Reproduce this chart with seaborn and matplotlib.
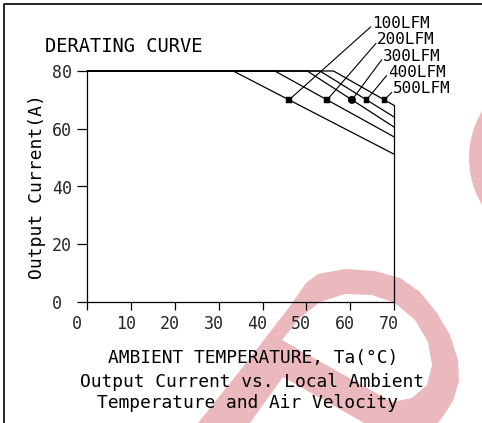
import numpy as np
import pandas as pd
import matplotlib
matplotlib.use("Agg")
import matplotlib.pyplot as plt
import matplotlib.transforms as mtransforms
from matplotlib.path import Path
from matplotlib.patches import PathPatch, Circle
from matplotlib.lines import Line2D
import seaborn as sns

# ---- derating data -------------------------------------------------------
airflow = ["100LFM", "200LFM", "300LFM", "400LFM", "500LFM"]
derate_start_temp = [33.3, 42.8, 50.2, 53.1, 56.2]   # °C where each curve leaves full load
current_at_70c = [51.2, 57.2, 60.6, 64.1, 68.1]       # A at 70 °C
rated_current = 80
temp_range = [0, 70]
marker_current = 70
marker_kind = ["square", "square", "round", "square", "square"]

x_ticks = [0, 10, 20, 30, 40, 50, 60, 70]
y_ticks = [0, 20, 40, 60, 80]

# callout text anchors (data units, outside the plot box)
label_temp = [65.0, 66.2, 67.5, 68.6, 69.8]
label_current = [96.5, 90.8, 85.1, 79.6, 73.8]

# ---- tables --------------------------------------------------------------
rows = []
for name, t0, i70 in zip(airflow, derate_start_temp, current_at_70c):
    rows += [(name, temp_range[0], rated_current),
             (name, t0, rated_current),
             (name, temp_range[1], i70)]
curves = pd.DataFrame(rows, columns=["airflow", "temp", "current"])

marker_temp = [np.interp(marker_current, [i70, rated_current], [temp_range[1], t0])
               for t0, i70 in zip(derate_start_temp, current_at_70c)]
marks = pd.DataFrame({"airflow": airflow, "temp": marker_temp,
                      "current": [marker_current] * len(airflow), "kind": marker_kind})

# ---- figure --------------------------------------------------------------
sns.set_theme(style="white")
mono = ["DejaVu Sans Mono", "DejaVu Sans"]
plt.rcParams["font.family"] = mono
plt.rcParams["text.color"] = "black"

W, H = 482, 423
fig = plt.figure(figsize=(W / 100, H / 100), dpi=100, facecolor="white")

# background stamp
wm = fig.add_axes([0, 0, 1, 1], zorder=0)
wm.set_xlim(0, W)
wm.set_ylim(H, 0)
wm.axis("off")
pink = "#ebb9bd"
outer = [(150, 500), (179, 450), (198, 423), (250, 358), (290, 306), (306, 283),
         (318, 274), (345, 269), (375, 271), (400, 278), (420, 292), (437, 313),
         (450, 335), (458, 360), (459, 381), (453, 401), (442, 418), (428, 434),
         (410, 449), (283, 377), (250, 423), (226, 450), (210, 500)]
hole = [(282, 340), (300, 318), (320, 302), (345, 294), (372, 295), (395, 303),
        (415, 320), (428, 342), (432, 365), (427, 385), (412, 398), (392, 402)]
verts = outer + [outer[0]] + hole[::-1] + [hole[-1]]
codes = ([Path.MOVETO] + [Path.LINETO] * (len(outer) - 1) + [Path.CLOSEPOLY]
         + [Path.MOVETO] + [Path.LINETO] * (len(hole) - 1) + [Path.CLOSEPOLY])
wm.add_patch(PathPatch(Path(verts, codes), facecolor=pink, edgecolor="none"))
wm.add_patch(Circle((560, 158), 91, facecolor=pink, edgecolor="none"))

# main plot
ax = fig.add_axes([87.3 / W, 1 - 302 / H, 306.7 / W, 231 / H], zorder=1)
ax.set_facecolor("none")

sns.lineplot(data=curves, x="temp", y="current", hue="airflow",
             palette=["black"] * len(airflow), linewidth=0.9, legend=False,
             sort=False, estimator=None, ax=ax)
for ln in ax.get_lines():
    ln.set_clip_on(False)
# right-hand boundary of the operating area
ax.plot([temp_range[1], temp_range[1]], [0, max(current_at_70c)], color="black",
        lw=0.9, clip_on=False)

sns.scatterplot(data=marks, x="temp", y="current", style="kind",
                markers={"square": "s", "round": "o"},
                size="kind", sizes={"square": 16, "round": 30},
                color="black", edgecolor="black", legend=False, ax=ax, zorder=4)

for name, mt, lt, lc in zip(airflow, marker_temp, label_temp, label_current):
    ax.plot([mt, lt - 0.3], [marker_current, lc - 1.2], color="black", lw=0.8,
            clip_on=False)
    ax.text(lt, lc, name, ha="left", va="center", fontsize=11.5, clip_on=False)

ax.set_xlim(temp_range)
ax.set_ylim(0, rated_current)
ax.set_xticks(x_ticks)
ax.set_yticks(y_ticks)
ax.set_xlabel("")
ax.set_ylabel("")
for side in ["top", "right"]:
    ax.spines[side].set_visible(False)
for side in ["left", "bottom"]:
    ax.spines[side].set_color("black")
    ax.spines[side].set_linewidth(0.9)

ax.tick_params(axis="x", direction="out", length=5.5, width=0.9, color="black",
               pad=4, labelsize=12, bottom=True)
ax.tick_params(axis="y", direction="out", length=7.5, width=0.9, color="black",
               pad=18, labelsize=12, left=True)
plt.setp(ax.get_yticklabels(), ha="left")
for k, lbl in enumerate(ax.get_xticklabels()):
    dx = -0.10 if k == 0 else -0.05
    lbl.set_transform(lbl.get_transform()
                      + mtransforms.ScaledTranslation(dx, 0, fig.dpi_scale_trans))

# text around the plot
fig.text(45 / W, 1 - 46 / H, "DERATING CURVE", ha="left", va="center", fontsize=13.5)
fig.text(37 / W, 1 - 187 / H, "Output Current(A)", rotation=90,
         ha="center", va="center", fontsize=13)
fig.text(253 / W, 1 - 358 / H, "AMBIENT TEMPERATURE, Ta(°C)",
         ha="center", va="center", fontsize=12.9)
fig.text(252.5 / W, 1 - 382 / H, "Output Current vs. Local Ambient",
         ha="center", va="center", fontsize=12.9)
fig.text(247.5 / W, 1 - 403 / H, "Temperature and Air Velocity",
         ha="center", va="center", fontsize=12.9)

# page frame (top and left edges)
fig.add_artist(Line2D([4 / W, 4 / W, 1], [0, 1 - 4 / H, 1 - 4 / H],
                      transform=fig.transFigure, color="black", lw=1.2))

fig.savefig("out.png", dpi=100, facecolor="white")
